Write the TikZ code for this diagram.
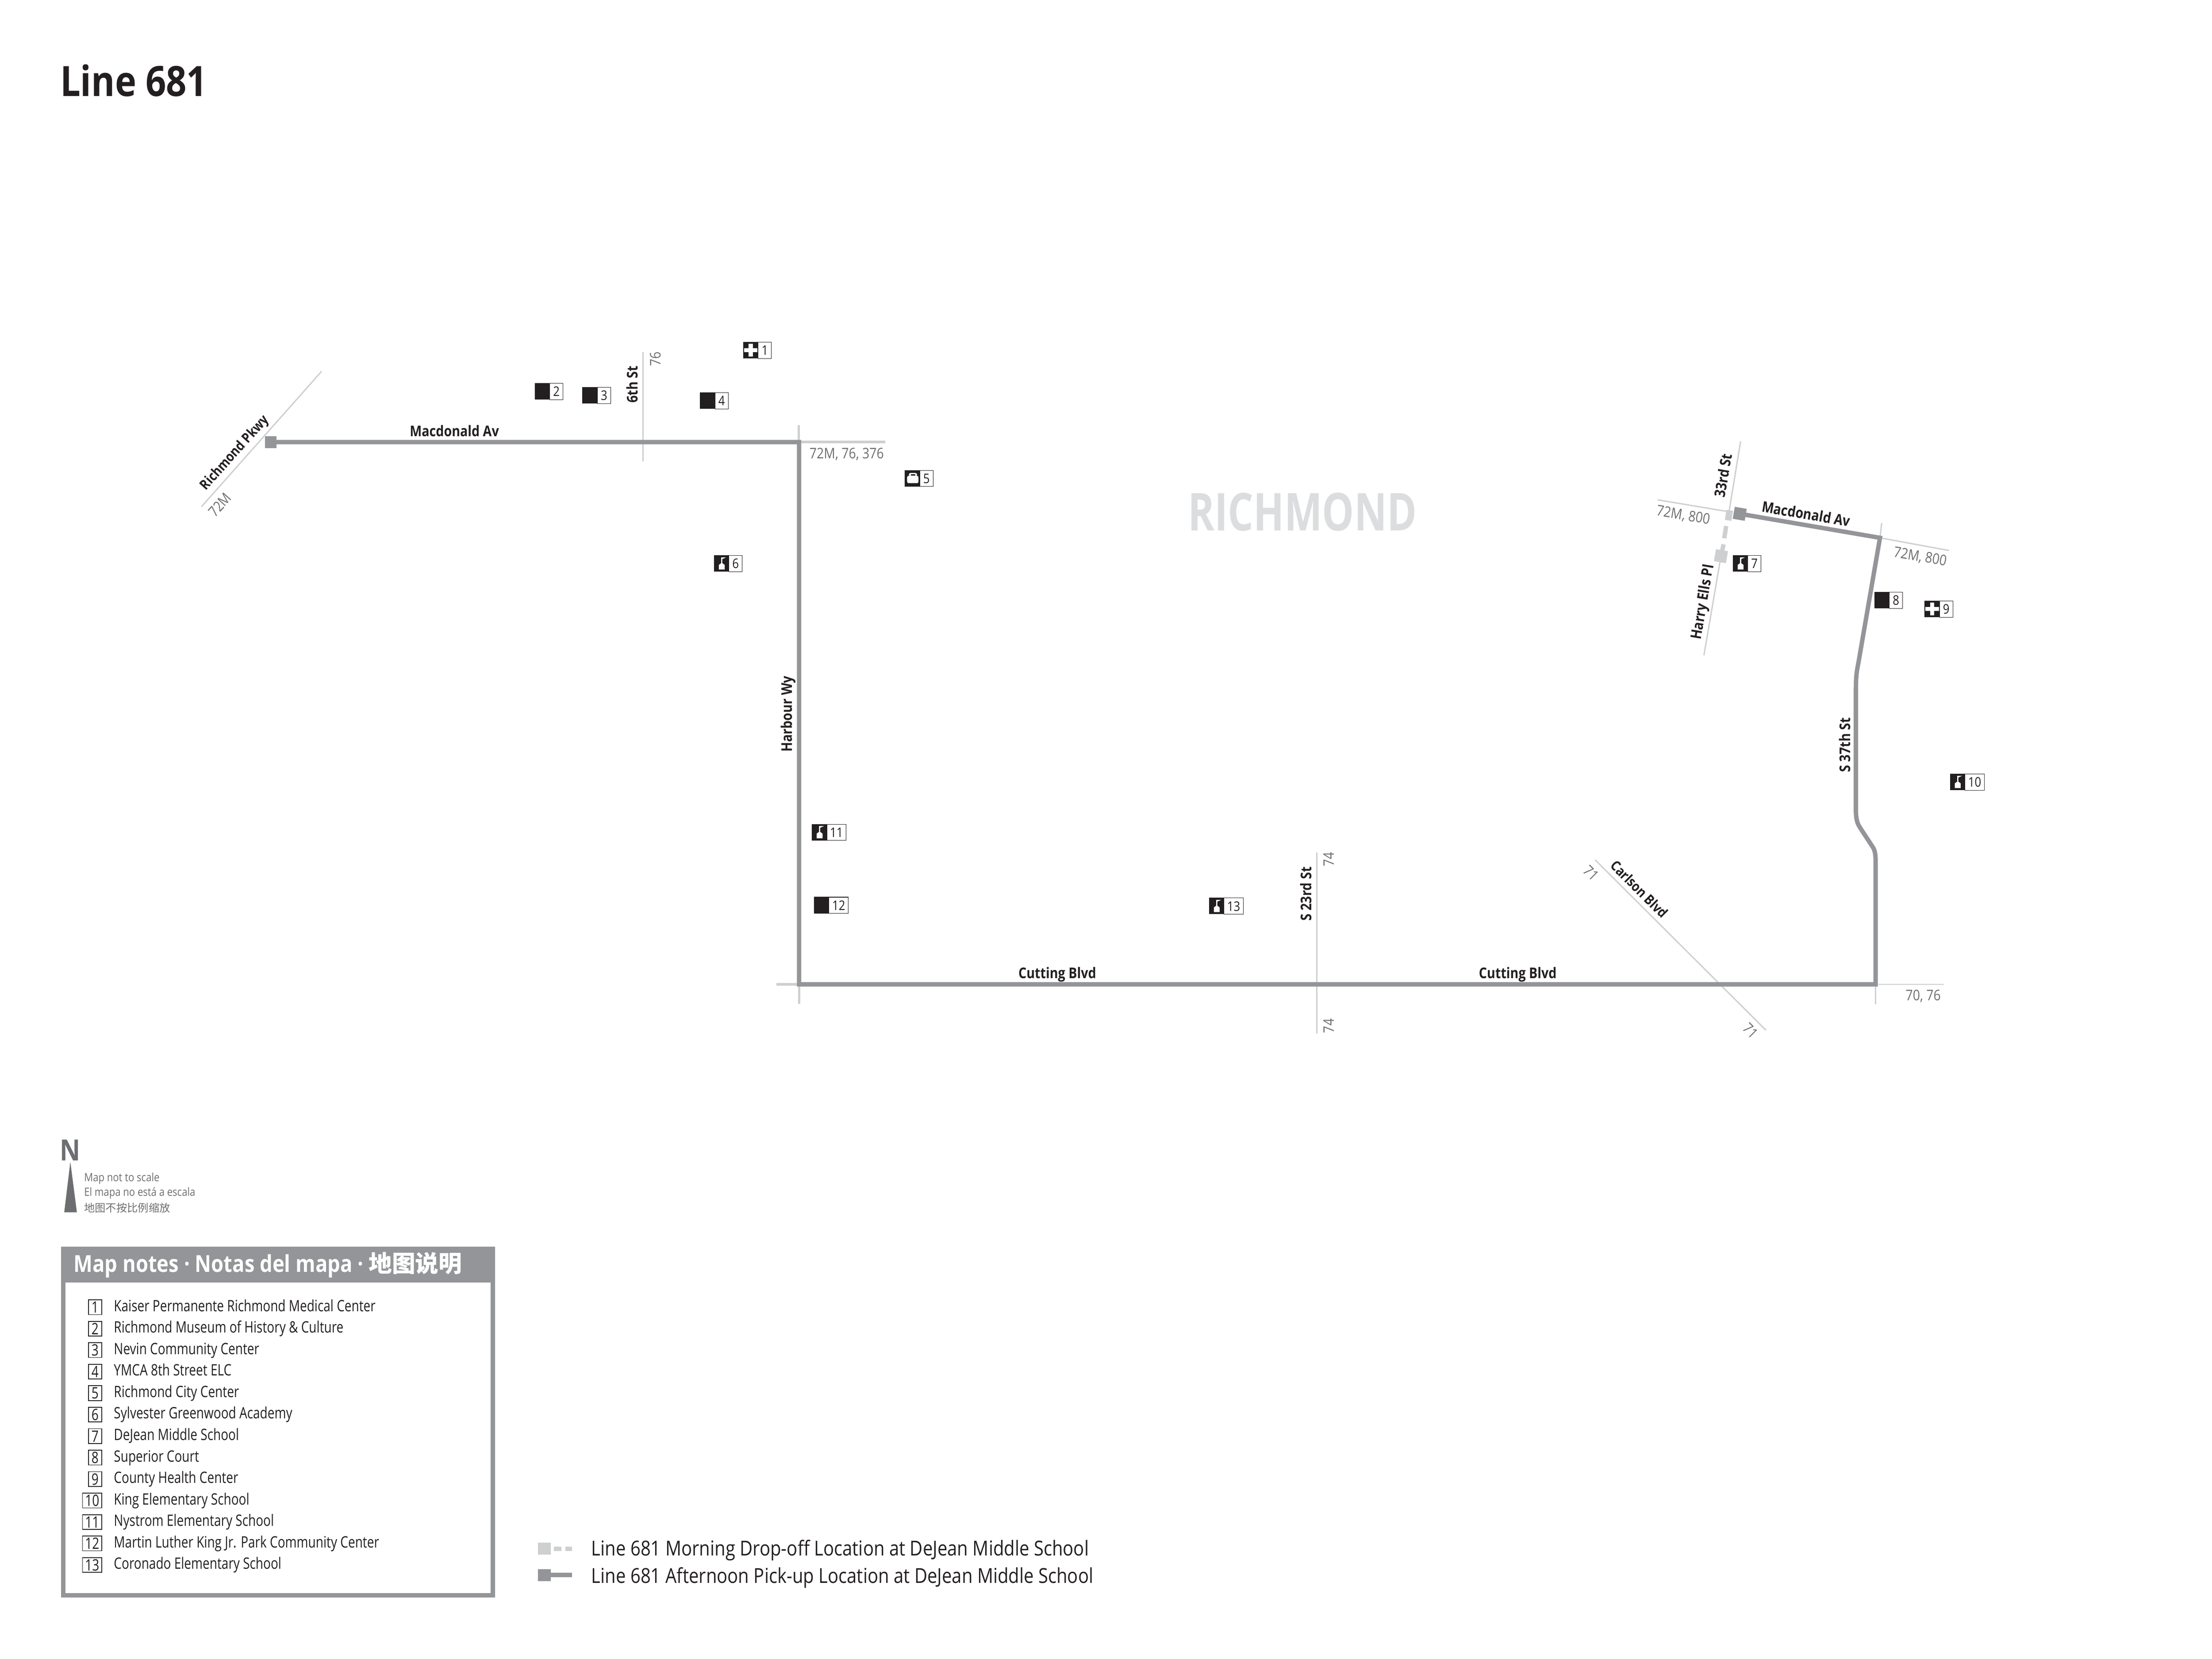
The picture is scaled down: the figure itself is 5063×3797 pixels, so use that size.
\documentclass[tikz,border=0pt]{standalone}
\usepackage{fontspec}
\setmainfont[FakeStretch=0.86]{Open Sans}
\newfontfamily\listfont[FakeStretch=0.79]{Open Sans}
\newfontfamily\cityfont[FakeStretch=0.77]{Open Sans}
\newfontfamily\cjk{Noto Sans CJK SC}
\definecolor{routegray}{HTML}{939598}
\definecolor{roadgray}{HTML}{CDCFD0}
\definecolor{citygray}{HTML}{DCDDDE}
\definecolor{busgray}{HTML}{6D6E71}
\definecolor{inkblack}{HTML}{231F20}
\tikzset{
    routeline/.style={draw=routegray,line width=2.85pt},
    stubline/.style={draw=roadgray,line width=1.4pt},
    roadline/.style={draw=roadgray,line width=0.85pt},
    amline/.style={draw=roadgray,line width=1.7pt},
    amdash/.style={draw=roadgray,line width=2.85pt},
    roadlabel/.style={font=\bfseries\fontsize{9.6}{11}\selectfont,text=inkblack,inner sep=0pt},
    buslabel/.style={font=\fontsize{9.5}{11}\selectfont,text=busgray,inner sep=0pt},
    notelabel/.style={font=\fontsize{7.4}{9}\selectfont,text=busgray,inner sep=0pt,anchor=west},
    listlabel/.style={font=\listfont\fontsize{10.2}{12}\selectfont,text=inkblack,inner sep=0pt,anchor=west,text height=7.4pt,text depth=2pt},
    listnum/.style={font=\listfont\fontsize{10.2}{12}\selectfont,text=inkblack,draw=inkblack,line width=0.5pt,inner xsep=0pt,inner ysep=1.1pt,anchor=east,text height=7.4pt,text depth=0pt},
    keylabel/.style={font=\fontsize{13.4}{15}\selectfont,text=inkblack,inner sep=0pt,anchor=west},
    poinum/.style={font=\fontsize{8.6}{10}\selectfont,text=inkblack,fill=white,draw=inkblack,line width=0.3pt,inner sep=0pt,anchor=north west},
}
\newcommand{\symbblank}{}
\newcommand{\symbcross}{%
    \fill[white] (12.5,4) rectangle (22,33.5);
    \fill[white] (2,14) rectangle (33,23.5);
}
\newcommand{\symbschool}{%
    \fill[white] (11.3,32.7) -- (11.3,22) -- (16.7,18) -- (16.7,4.7) -- (28,4.7) -- (19.3,8.7) -- (19.3,18) -- (24.7,22) -- (24.7,32.7) -- cycle;
}
\newcommand{\symbbag}{%
    \fill[white,rounded corners=1pt] (5.3,13) rectangle (31.3,30);
    \fill[white,rounded corners=1pt] (9.3,6.7) rectangle (28,14);
    \fill[inkblack] (13.7,9) rectangle (24.3,13);
}

\begin{document}
\begin{tikzpicture}[x=0.01cm,y=-0.01cm]
    \useasboundingbox (0,0) rectangle (5063,3797);
    \node[font=\bfseries\fontsize{27.2}{32}\selectfont,text=inkblack,inner sep=0pt] (title) at (306,184) {Line 681};
    \node[font=\cityfont\bfseries\fontsize{34}{38}\selectfont,text=citygray,inner sep=0pt] (city) at (2981,1172) {RICHMOND};

    % side streets
    \draw[roadline] (736,850) -- (461,1160);
    \draw[roadline] (1472,806) -- (1472,1056);
    \draw[roadline] (3014,1951) -- (3014,2365);
    \draw[roadline] (3651,1968) -- (4042,2358);
    \draw[roadline] (3984,1010) -- (3958,1168);
    \draw[roadline] (3939,1273) -- (3900,1500);
    \draw[roadline] (4293,2253) -- (4293,2299);
    \draw[roadline] (4299,2253) -- (4449,2253);
    \draw[roadline] (4307,1197) -- (4303,1231);
    \draw[roadline] (3794,1144) -- (3955,1171);
    \draw[roadline] (4303,1231) -- (4461,1260);
    \draw[stubline] (1828,973) -- (1828,1012);
    \draw[amline] (1829,1012) -- (2026,1012);
    \draw[amline] (1777,2253) -- (1829,2253);
    \draw[stubline] (1829,2253) -- (1829,2298);

    % morning drop-off
    \coordinate (amstop) at (3939,1273);
    \draw[draw=roadgray,line width=4.3pt] (3959,1168) -- (3955.5,1191);
    \draw[amdash] (3951,1204) -- (3946.5,1232);
    \draw[amdash] (3945,1246) -- (amstop);
    \node[fill=roadgray,rotate=-9.7,minimum size=7.9pt,inner sep=0pt] (amsq) at (amstop) {};

    % afternoon route
    \coordinate (macw) at (620,1012);
    \coordinate (macc) at (1829,1012);
    \coordinate (cutw) at (1829,2253);
    \coordinate (cute) at (4293,2253);
    \coordinate (mace) at (3982,1176);
    \coordinate (macn) at (4303,1231);
    \draw[routeline,line join=miter] (macw) -- (macc) -- (cutw) -- (cute) -- (4293,1970)
        .. controls (4293,1945) and (4287,1940) .. (4284,1935) -- (4261,1900)
        .. controls (4255,1890) and (4249,1885) .. (4248,1860) -- (4248,1575)
        .. controls (4248,1550) and (4249,1540) .. (4254,1515) -- (macn) -- (mace);
    \node[fill=routegray,minimum width=7.4pt,minimum height=7.8pt,inner sep=0pt] (pmw) at (macw) {};
    \node[fill=routegray,rotate=-9.7,minimum size=7.9pt,inner sep=0pt] (pme) at (mace) {};

    % street names
    \node[roadlabel] (lmacw) at (1040,986) {Macdonald Av};
    \node[roadlabel,rotate=90] (lsixth) at (1447,880) {6th St};
    \node[roadlabel,rotate=48,font=\bfseries\fontsize{9}{11}\selectfont] (lpkwy) at (538,1037) {Richmond Pkwy};
    \node[roadlabel,rotate=90] (lharbour) at (1804,1634) {Harbour Wy};
    \node[roadlabel,rotate=90] (l23rd) at (2989,2046) {S 23rd St};
    \node[roadlabel] (lcuta) at (2420,2231) {Cutting Blvd};
    \node[roadlabel] (lcutb) at (3474,2231) {Cutting Blvd};
    \node[roadlabel,rotate=-45,font=\bfseries\fontsize{9}{11}\selectfont] (lcarlson) at (3752,2035) {Carlson Blvd};
    \node[roadlabel,rotate=90] (l37th) at (4222,1705) {S 37th St};
    \node[roadlabel,rotate=80.3] (lharry) at (3899,1378) {Harry Ells Pl};
    \node[roadlabel,rotate=80.3] (l33rd) at (3944,1088) {33rd St};
    \node[roadlabel,rotate=-9.7] (lmace) at (4134,1176) {Macdonald Av};

    % connecting buses
    \node[buslabel,rotate=90] (b76) at (1500,822) {76};
    \node[buslabel,rotate=48] (b72m) at (503,1155) {72M};
    \node[buslabel] (bharbour) at (1938,1040) {72M, 76, 376};
    \node[buslabel,rotate=90] (b74a) at (3041,1967) {74};
    \node[buslabel,rotate=90] (b74b) at (3041,2348) {74};
    \node[buslabel] (b70) at (4402,2280) {70, 76};
    \node[buslabel,rotate=-45] (b71a) at (3642,1998) {71};
    \node[buslabel,rotate=-45] (b71b) at (4007,2359) {71};
    \node[buslabel,rotate=-9.7] (b800a) at (3853,1180) {72M, 800};
    \node[buslabel,rotate=-9.7] (b800b) at (4395,1275) {72M, 800};

    % places on the map
    \foreach \num/\posx/\posy/\symb in {1/1701/783/cross,2/1224/877/blank,3/1333/886/blank,4/1602/898/blank,
        5/2071/1076/bag,6/1634/1271/school,7/3966/1271/school,8/4290/1355/blank,9/4405/1375/cross,
        10/4463/1771/school,11/1858/1886/school,12/1863/2053/blank,13/2767/2055/school} {
        \begin{scope}[shift={(\posx,\posy)}]
            \node[poinum,minimum width=\ifnum\num>9 12.6pt\else 8.6pt\fi,minimum height=10.6pt] (poi\num) at (34,0) {\num};
            \fill[inkblack] (0,0) rectangle (35,37.5);
            \csname symb\symb\endcsname
        \end{scope}
    }

    % north arrow
    \node[font=\bfseries\fontsize{19}{21}\selectfont,text=busgray,inner sep=0pt] (north) at (161,2633) {N};
    \fill[busgray] (161,2659) -- (176,2775) -- (147,2775) -- cycle;
    \node[notelabel] (scalea) at (192,2697) {Map not to scale};
    \node[notelabel] (scaleb) at (192,2731) {El mapa no está a escala};
    \node[notelabel] (scalec) at (192,2765) {\cjk\fontsize{7}{9}\selectfont 地图不按比例缩放};

    % map notes box
    \draw[routegray,line width=2.85pt] (145,2858) rectangle (1128,3651);
    \fill[routegray] (140,2853) rectangle (1133,2936);
    \node[font=\bfseries\fontsize{15.2}{18}\selectfont,text=white,inner sep=0pt,anchor=west] (notehead) at (168,2895) {Map notes · Notas del mapa · {\cjk 地图说明}};
    \foreach \num/\txt [count=\row from 0] in {1/Kaiser Permanente Richmond Medical Center,2/Richmond Museum of History \& Culture,
        3/Nevin Community Center,4/YMCA 8th Street ELC,5/Richmond City Center,6/Sylvester Greenwood Academy,
        7/DeJean Middle School,8/Superior Court,9/County Health Center,10/King Elementary School,
        11/Nystrom Elementary School,12/Martin Luther King Jr. Park Community Center,13/Coronado Elementary School} {
        \pgfmathsetmacro{\rowy}{2992+49.17*\row}
        \node[listnum,minimum width=\ifnum\num>9 12.6pt\else 8.8pt\fi] (num\num) at (234,\rowy) {\num};
        \node[listlabel] (txt\num) at (260,\rowy) {\txt};
    }

    % legend
    \node[fill=roadgray,minimum width=8.2pt,minimum height=7.8pt,inner sep=0pt] (keyam) at (1246,3545) {};
    \coordinate (keyamend) at (1309,3545);
    \draw[draw=roadgray,line width=2.8pt,dash pattern=on 4.8pt off 2.6pt] (1268,3545) -- (keyamend);
    \node[fill=routegray,minimum width=8.2pt,minimum height=7.8pt,inner sep=0pt] (keypm) at (1246,3605) {};
    \coordinate (keypmend) at (1309,3605);
    \draw[routeline] (keypm) -- (keypmend);
    \node[keylabel] (keyamtxt) at (1353,3548) {Line 681 Morning Drop-off Location at DeJean Middle School};
    \node[keylabel] (keypmtxt) at (1353,3611) {Line 681 Afternoon Pick-up Location at DeJean Middle School};
\end{tikzpicture}
\end{document}
